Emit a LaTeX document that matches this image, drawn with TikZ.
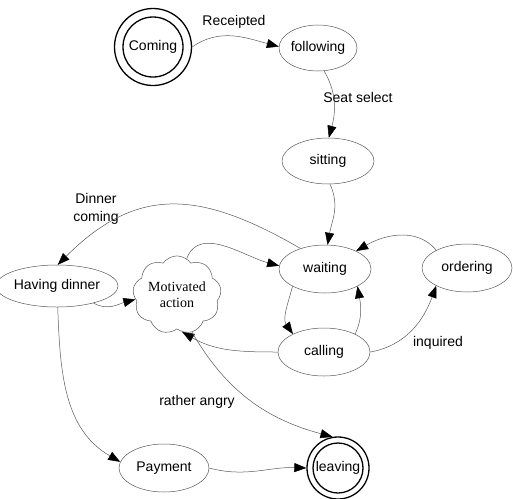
\documentclass[tikz,border=0pt]{standalone}
\usepackage{fontspec}
\setmainfont{Liberation Sans}
\newfontfamily\cloudfont{Liberation Serif}
\usetikzlibrary{arrows.meta,shapes.geometric,shapes.symbols}
\begin{document}
\begin{tikzpicture}[x=1pt,y=1pt,
  every node/.style={font=\fontsize{14}{17}\selectfont},
  state/.style={ellipse,draw=black!65,line width=0.5pt,inner sep=0pt,minimum width=92pt,minimum height=48pt},
  accept/.style={circle,draw,line width=1.3pt,inner sep=0pt,minimum size=#1},
  inring/.style={path picture={\draw[line width=1.3pt] (path picture bounding box.center) circle (#1);}},
  mood/.style={cloud,cloud puffs=9,cloud puff arc=110,aspect=1.2,draw=black!65,line width=0.5pt,inner sep=0pt,minimum width=71pt,minimum height=60pt,align=center,font=\cloudfont\fontsize{14}{17}\selectfont},
  lbl/.style={inner sep=1pt,align=center,font=\fontsize{14}{18}\selectfont},
  trans/.style={draw=black!65,line width=0.5pt,-{Triangle[length=12pt,width=9pt,black]}}
]
\useasboundingbox (0,0) rectangle (513,-498);

% states
\node[accept=77pt,inring=30pt] (coming) at (153,-47) {Coming};
\node[state,minimum width=78pt,minimum height=46pt] (following) at (318,-48) {following};
\node[state,minimum height=46pt] (sitting) at (328,-161) {sitting};
\node[state] (waiting) at (325,-269) {waiting};
\node[state,minimum width=90pt] (ordering) at (467,-268) {ordering};
\node[state] (calling) at (324,-352) {calling};
\node[state,minimum height=42pt] (dinner) at (57,-286) {Having dinner};
\node[mood] (motiv) at (177,-295) {Motivated\\[-1pt]action};
\node[state,minimum width=90pt] (payment) at (164,-468) {Payment};
\node[accept=62pt,inring=25pt] (leaving) at (338,-468) {leaving};

% transition labels
\node[lbl] (lreceipted) at (234,-22) {Receipted};
\node[lbl] (lseat) at (358,-97) {Seat select};
\node[lbl] (ldinner) at (96,-209) {Dinner\\coming};
\node[lbl] (linquired) at (438,-343) {inquired};
\node[lbl] (langry) at (197,-402) {rather angry};

% transitions
\draw[trans] (coming.east) to[out=35,in=165] (following.178);
\draw[trans] (following.-75) to[out=-60,in=75] (sitting.88);
\draw[trans] (sitting.-85) to[out=-65,in=80] (waiting.84);
\draw[trans] (waiting.140) to[out=150,in=45,looseness=1.2] (dinner.88);
\draw[trans] (motiv.75) to[out=70,in=165] (waiting.176);
\draw[trans] (ordering.150) to[out=130,in=30] (waiting.30);
\draw[trans] (waiting.208) to[out=-105,in=125] (calling.150);
\draw[trans] (calling.30) to[out=65,in=-80] (waiting.-28);
\draw[trans] (calling.east) to[out=10,in=-110] (ordering.210);
\draw[trans] (calling.west) to[out=180,in=-30] (motiv.-82);
\draw[trans] (motiv.-68) to[out=-60,in=165] (leaving.100);
\draw[trans] (dinner.-25) to[out=-30,in=195] (motiv.186);
\draw[trans] (dinner.-88) to[out=-88,in=150] (payment.172);
\draw[trans] (payment.east) to[out=-15,in=178] (leaving.west);
\end{tikzpicture}
\end{document}
